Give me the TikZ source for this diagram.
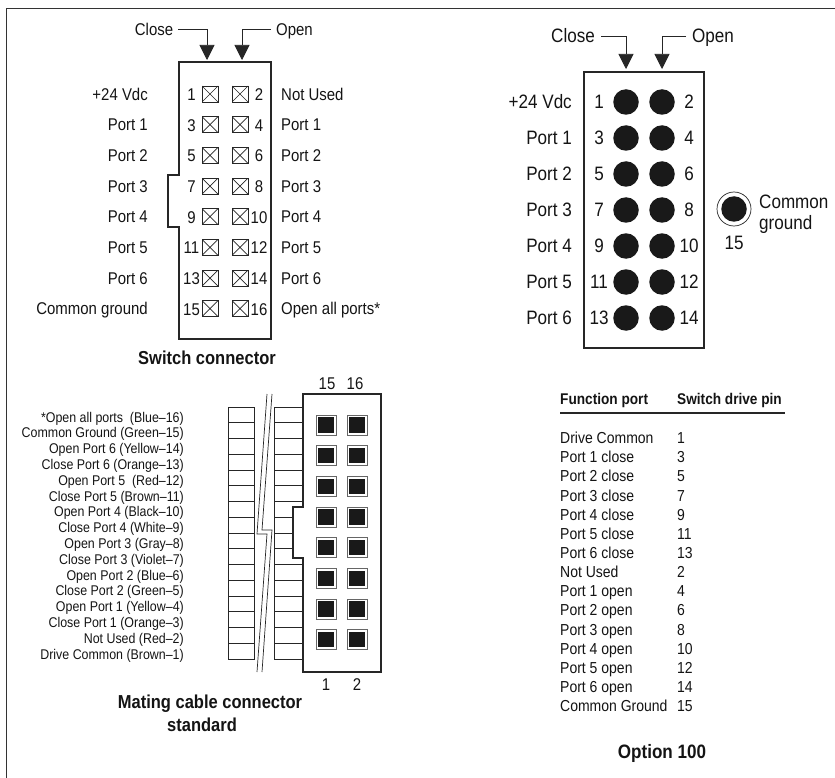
\documentclass[tikz,border=0pt]{standalone}
\usepackage{fontspec}
\setmainfont[FakeStretch=0.88]{Liberation Sans}
\usetikzlibrary{arrows.meta}
\tikzset{
  txt/.style={inner sep=0pt,text depth=0pt,text=black!92},
  lab/.style={txt,text height=12.2pt,font=\fontsize{17}{17}\selectfont},
  biglab/.style={txt,text height=13.8pt,font=\fontsize{19.4}{19.4}\selectfont},
  wirelab/.style={txt,text height=10.1pt,anchor=east,font=\fontsize{14.1}{14.1}\selectfont},
  tablab/.style={txt,text height=11.4pt,anchor=west,font=\fontsize{15.9}{15.9}\selectfont},
  tabhead/.style={txt,text height=11.1pt,anchor=west,font=\fontsize{15.5}{15.5}\selectfont\bfseries},
  title/.style={txt,text height=13.4pt,font=\fontsize{18.75}{18.75}\selectfont\bfseries},
  xpin/.style={draw=black!85,line width=0.7pt,minimum size=16pt,inner sep=0pt,
    path picture={\draw[black!85,line width=0.7pt] (path picture bounding box.north west) -- (path picture bounding box.south east)
      (path picture bounding box.north east) -- (path picture bounding box.south west);}},
  matepin/.style={draw=black!60,line width=1pt,minimum size=20pt,inner sep=0pt},
  mateblack/.style={fill=black!90,minimum size=15.5pt,inner sep=0pt},
  dotpin/.style={circle,fill=black!90,minimum size=25.5pt,inner sep=0pt},
  housing/.style={draw=black!85,line width=1.5pt,fill=white},
  wire/.style={draw=black!85,line width=0.7pt},
  pointer/.style={draw=black!85,line width=0.7pt,->,>={Triangle[length=15pt,width=15pt]}}
}
\begin{document}
\begin{tikzpicture}[x=1pt,y=-1pt]
\useasboundingbox (0,0) rectangle (835,778);
\draw[black!80,line width=1pt] (6,778) -- (6,9) -- (835,9);

%% switch connector
\draw[housing] (179,62) -- (271,62) -- (271,339) -- (179,339) -- (179,227) -- (168,227) -- (168,175) -- (179,175) -- cycle;
\node[lab] (closeA) at (154,29) {Close};
\node[lab,anchor=west] (openA) at (276,29) {Open};
\coordinate (closeAtip) at (207,60);
\coordinate (openAtip) at (242,60);
\draw[pointer] (closeA.east) ++(5,0) -| (closeAtip);
\draw[pointer] (openA.west) ++(-5,0) -| (openAtip);
\foreach \i/\l/\r/\a/\b in {0/+24 Vdc/Not Used/1/2,1/Port 1/Port 1/3/4,2/Port 2/Port 2/5/6,3/Port 3/Port 3/7/8,
    4/Port 4/Port 4/9/10,5/Port 5/Port 5/11/12,6/Port 6/Port 6/13/14,7/Common ground/Open all ports*/15/16}{
  \node[lab,anchor=east] (sl\i) at (148,94+30.67*\i) {\l};
  \node[lab,anchor=west] (sr\i) at (281,94+30.67*\i) {\r};
  \node[xpin] (s\a) at (210,94+30.67*\i) {};
  \node[xpin] (s\b) at (240,94+30.67*\i) {};
  \node[lab] (sn\a) at (191.5,94.5+30.67*\i) {\a};
  \node[lab] (sn\b) at (259,94.5+30.67*\i) {\b};
}
\node[title] (switchtitle) at (207,358) {Switch connector};

%% mating cable
\draw[wire] (228,407) rectangle (254,659);
\draw[wire] (303,407) -- (274,407) -- (274,659) -- (303,659);
\foreach \i in {1,...,15}{
  \draw[wire] (228,407+15.75*\i) -- (254,407+15.75*\i);
  \draw[wire] (274,407+15.75*\i) -- (303,407+15.75*\i);
}
\draw[wire] (267,394) -- (257,534) -- (267,534) -- (257,672);
\draw[wire] (272,394) -- (262,530) -- (272,530) -- (262,672);
\draw[housing] (303,394) -- (381,394) -- (381,672) -- (303,672) -- (303,558) -- (293,558) -- (293,507) -- (303,507) -- cycle;
\foreach \i in {0,...,7}{
  \node[matepin] (ma\i) at (326,425+30.67*\i) {};
  \node[mateblack] (mai\i) at (ma\i) {};
  \node[matepin] (mb\i) at (357,425+30.67*\i) {};
  \node[mateblack] (mbi\i) at (mb\i) {};
}
\node[lab] (m15) at (327,383) {15};
\node[lab] (m16) at (355,383) {16};
\node[lab] (m1) at (326,684) {1};
\node[lab] (m2) at (357,684) {2};
\foreach \i/\t in {0/*Open all ports\ \ (Blue--16),1/Common Ground (Green--15),2/Open Port 6 (Yellow--14),
    3/Close Port 6 (Orange--13),4/Open Port 5\ \ (Red--12),5/Close Port 5 (Brown--11),6/Open Port 4 (Black--10),
    7/Close Port 4 (White--9),8/Open Port 3 (Gray--8),9/Close Port 3 (Violet--7),10/Open Port 2 (Blue--6),
    11/Close Port 2 (Green--5),12/Open Port 1 (Yellow--4),13/Close Port 1 (Orange--3),14/Not Used (Red--2),
    15/Drive Common (Brown--1)}{
  \node[wirelab] (w\i) at (184,417+15.8*\i) {\t};
}
\node[title] (matetitle) at (210,702) {Mating cable connector};
\node[title] (matetitleb) at (202,725) {standard};

%% option 100
\draw[housing] (584,72) rectangle (704,348);
\node[biglab] (closeB) at (573,36) {Close};
\node[biglab,anchor=west] (openB) at (692,36) {Open};
\coordinate (closeBtip) at (626,69);
\coordinate (openBtip) at (662,69);
\draw[pointer] (closeB.east) ++(6,0) -| (closeBtip);
\draw[pointer] (openB.west) ++(-6,0) -| (openBtip);
\foreach \i/\l/\a/\b in {0/+24 Vdc/1/2,1/Port 1/3/4,2/Port 2/5/6,3/Port 3/7/8,4/Port 4/9/10,5/Port 5/11/12,6/Port 6/13/14}{
  \node[biglab,anchor=east] (ol\i) at (572,102+36*\i) {\l};
  \node[dotpin] (o\a) at (626,102+36*\i) {};
  \node[dotpin] (o\b) at (662,102+36*\i) {};
  \node[biglab] (on\a) at (599,102+36*\i) {\a};
  \node[biglab] (on\b) at (689,102+36*\i) {\b};
}
\node[circle,draw=black!85,line width=0.7pt,minimum size=34pt,inner sep=0pt] (gndring) at (734,209) {};
\node[dotpin] (gnd) at (gndring) {};
\node[biglab,anchor=west] (gndA) at (759,202) {Common};
\node[biglab,anchor=west] (gndB) at (759,223) {ground};
\node[biglab] (gndnum) at (734,243) {15};

%% table
\node[tabhead] (headA) at (560,399) {Function port};
\node[tabhead] (headB) at (677,399) {Switch drive pin};
\draw[black!85,line width=1.6pt] (560,413) -- (785,413);
\foreach \i/\f/\p in {0/Drive Common/1,1/Port 1 close/3,2/Port 2 close/5,3/Port 3 close/7,4/Port 4 close/9,
    5/Port 5 close/11,6/Port 6 close/13,7/Not Used/2,8/Port 1 open/4,9/Port 2 open/6,10/Port 3 open/8,
    11/Port 4 open/10,12/Port 5 open/12,13/Port 6 open/14,14/Common Ground/15}{
  \node[tablab] (tf\i) at (560,438+19.14*\i) {\f};
  \node[tablab] (tp\i) at (677,438+19.14*\i) {\p};
}
\node[title,text height=13.8pt,font=\fontsize{19.4}{19.4}\selectfont\bfseries] (optiontitle) at (662,752) {Option 100};
\end{tikzpicture}
\end{document}
